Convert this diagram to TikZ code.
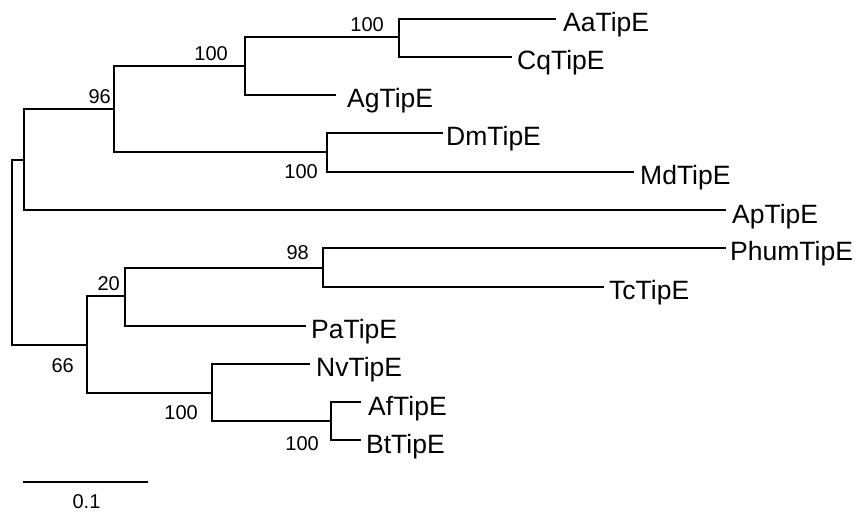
\documentclass[tikz,border=0pt]{standalone}
\usepackage{fontspec}
\setmainfont{Liberation Sans}
\begin{document}
\begin{tikzpicture}[x=1pt,y=-1pt,
  br/.style={line width=2pt, line cap=rect},
  tip/.style={anchor=base west, inner sep=0pt, font=\fontsize{26.5}{26.5}\selectfont},
  boot/.style={anchor=base east, inner sep=0pt, font=\fontsize{20}{20}\selectfont}]
\useasboundingbox (0,0) rectangle (865,521);
% internal nodes
\coordinate (R) at (12,252);
\coordinate (A) at (24,160);
\coordinate (B) at (114,109);
\coordinate (C) at (245,66);
\coordinate (D) at (399,37);
\coordinate (E) at (327,152);
\coordinate (F) at (87,345);
\coordinate (G) at (125,296);
\coordinate (H) at (323,268);
\coordinate (I) at (212,393);
\coordinate (J) at (331,421);
% tip ends
\coordinate (tAa) at (555,19);
\coordinate (tCq) at (511,57);
\coordinate (tAg) at (335,95);
\coordinate (tDm) at (442,133);
\coordinate (tMd) at (633,172);
\coordinate (tAp) at (725,210);
\coordinate (tPhum) at (725,248);
\coordinate (tTc) at (603,287);
\coordinate (tPa) at (305,326);
\coordinate (tNv) at (309,364);
\coordinate (tAf) at (360,402);
\coordinate (tBt) at (360,440);
% branches
\draw[br] (R) |- (A);
\draw[br] (R) |- (F);
\draw[br] (A) |- (B);
\draw[br] (A) |- (tAp);
\draw[br] (B) |- (C);
\draw[br] (B) |- (E);
\draw[br] (C) |- (D);
\draw[br] (C) |- (tAg);
\draw[br] (D) |- (tAa);
\draw[br] (D) |- (tCq);
\draw[br] (E) |- (tDm);
\draw[br] (E) |- (tMd);
\draw[br] (F) |- (G);
\draw[br] (F) |- (I);
\draw[br] (G) |- (H);
\draw[br] (G) |- (tPa);
\draw[br] (H) |- (tPhum);
\draw[br] (H) |- (tTc);
\draw[br] (I) |- (tNv);
\draw[br] (I) |- (J);
\draw[br] (J) |- (tAf);
\draw[br] (J) |- (tBt);
% tip labels
\node[tip] (lAa) at (563,32) {AaTipE};
\node[tip] (lCq) at (517,70) {CqTipE};
\node[tip] (lAg) at (347,108) {AgTipE};
\node[tip] (lDm) at (446,146) {DmTipE};
\node[tip] (lMd) at (640,185) {MdTipE};
\node[tip] (lAp) at (732,224) {ApTipE};
\node[tip] (lPhum) at (730,261) {PhumTipE};
\node[tip] (lTc) at (609,300) {TcTipE};
\node[tip] (lPa) at (311,339) {PaTipE};
\node[tip] (lNv) at (316,377) {NvTipE};
\node[tip] (lAf) at (368,415) {AfTipE};
\node[tip] (lBt) at (366,453) {BtTipE};
% bootstrap values
\node[boot] (bD) at (384,32) {100};
\node[boot] (bC) at (228,61) {100};
\node[boot] (bB) at (111,104) {96};
\node[boot] (bE) at (318,179) {100};
\node[boot] (bH) at (309,260) {98};
\node[boot] (bG) at (120,291) {20};
\node[boot] (bF) at (74,373) {66};
\node[boot] (bI) at (198,419) {100};
\node[boot] (bJ) at (319,450) {100};
% scale bar
\coordinate (s1) at (23,482);
\coordinate (s2) at (148,482);
\draw[line width=2pt] (s1) -- (s2);
\node[anchor=base, inner sep=0pt, font=\fontsize{20}{20}\selectfont] (sl) at (86.5,508) {0.1};
\end{tikzpicture}
\end{document}
